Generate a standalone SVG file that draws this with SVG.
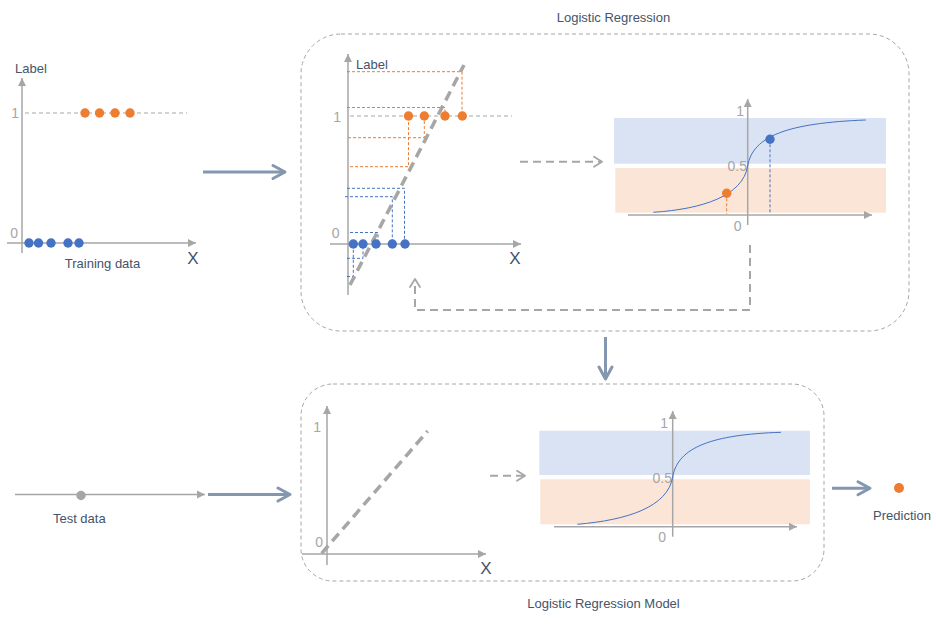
<svg xmlns="http://www.w3.org/2000/svg" width="936" height="628" viewBox="0 0 936 628">
<style>
.t{font-family:"Liberation Sans",Arial,sans-serif;font-size:13px;fill:#44546A}
.n{font-family:"Liberation Sans",Arial,sans-serif;font-size:14px;fill:#A6A6A6}
.x{font-family:"Liberation Sans",Arial,sans-serif;font-size:17px;fill:#44546A}
.box{fill:none;stroke:#A6A6A6;stroke-width:1;stroke-dasharray:4 3}
.axis{stroke:#A6A6A6;stroke-width:1.5;fill:none}
.gd{stroke:#A6A6A6;stroke-width:1;stroke-dasharray:4 3;fill:none}
.od{stroke:#ED7D31;stroke-width:1;stroke-dasharray:3 2;fill:none}
.bd{stroke:#4472C4;stroke-width:1;stroke-dasharray:3 2;fill:none}
.reg{stroke:#A6A6A6;stroke-width:3.5;stroke-dasharray:10 6;fill:none}
.big{stroke:#8497B0;stroke-width:3;fill:none}
.flow{stroke:#A6A6A6;stroke-width:2;stroke-dasharray:8 5;fill:none}
.curve{stroke:#4472C4;stroke-width:1;fill:none}
.o{fill:#ED7D31}
.b{fill:#4472C4}
</style>
<defs>
<marker id="ax" markerUnits="userSpaceOnUse" markerWidth="10" markerHeight="10" viewBox="0 0 10 10" refX="9" refY="5" orient="auto"><path d="M1,1 L9,5 L1,9 Z" fill="#A6A6A6"/></marker>
<marker id="bigA" markerUnits="userSpaceOnUse" markerWidth="18" markerHeight="18" viewBox="0 0 18 18" refX="15" refY="9" orient="auto"><path d="M3,2.5 L15,9 L3,15.5" fill="none" stroke="#8497B0" stroke-width="3" stroke-linecap="round" stroke-linejoin="round"/></marker>
<marker id="dA" markerUnits="userSpaceOnUse" markerWidth="14" markerHeight="14" viewBox="0 0 14 14" refX="12" refY="7" orient="auto"><path d="M4,2 L12,7 L4,12" fill="none" stroke="#A6A6A6" stroke-width="1.8" stroke-linecap="round" stroke-linejoin="round"/></marker>
</defs>
<rect width="936" height="628" fill="#FFFFFF"/>

<g id="training-data">
<line class="axis" x1="22" y1="253" x2="22" y2="78" marker-end="url(#ax)"/>
<line class="axis" x1="7" y1="243" x2="196" y2="243" marker-end="url(#ax)"/>
<line class="gd" x1="25" y1="113" x2="187" y2="113"/>
<text class="t" x="15" y="73">Label</text>
<text class="n" x="19" y="118" text-anchor="end">1</text>
<text class="n" x="18" y="238" text-anchor="end">0</text>
<circle class="o" cx="85" cy="113" r="4.7"/>
<circle class="o" cx="99.5" cy="113" r="4.7"/>
<circle class="o" cx="115" cy="113" r="4.7"/>
<circle class="o" cx="130" cy="113" r="4.7"/>
<circle class="b" cx="29" cy="243" r="4.7"/>
<circle class="b" cx="38.5" cy="243" r="4.7"/>
<circle class="b" cx="51" cy="243" r="4.7"/>
<circle class="b" cx="68" cy="243" r="4.7"/>
<circle class="b" cx="79" cy="243" r="4.7"/>
<text class="t" x="102.5" y="268" text-anchor="middle">Training data</text>
<text class="x" x="193" y="264" text-anchor="middle">X</text>
</g>

<g id="logistic-regression">
<text class="t" x="613.5" y="21.5" text-anchor="middle">Logistic Regression</text>
<rect class="box" x="301" y="34" width="608" height="297" rx="40"/>
<!-- linear chart -->
<line class="axis" x1="348" y1="295" x2="348" y2="54" marker-end="url(#ax)"/>
<line class="axis" x1="330" y1="244" x2="521" y2="244" marker-end="url(#ax)"/>
<text class="t" x="356" y="69">Label</text>
<text class="n" x="341" y="122" text-anchor="end">1</text>
<text class="n" x="339.5" y="238" text-anchor="end">0</text>
<text class="x" x="515" y="264" text-anchor="middle">X</text>
<line class="gd" x1="350" y1="116" x2="512" y2="116"/>
<path class="od" d="M347,71.7 H462 V116"/>
<path class="od" d="M347,107.5 H445 V116"/>
<path class="od" d="M348,137.7 H424.3 V116"/>
<path class="od" d="M350,166.7 H408.5 V116"/>
<path class="bd" d="M347,188.3 H404.5 V244"/>
<path class="bd" d="M345,196.7 H392.3 V244"/>
<path class="bd" d="M350,232.5 H378 V244"/>
<path class="bd" d="M347,258.3 H363 V244"/>
<path class="bd" d="M347,276.5 H353.3 V244"/>
<line class="reg" x1="350" y1="285" x2="464" y2="65"/>
<circle class="o" cx="408.5" cy="116" r="4.7"/>
<circle class="o" cx="424.3" cy="116" r="4.7"/>
<circle class="o" cx="445" cy="116" r="4.7"/>
<circle class="o" cx="462.3" cy="116" r="4.7"/>
<circle class="b" cx="353.3" cy="244" r="4.7"/>
<circle class="b" cx="363" cy="244" r="4.7"/>
<circle class="b" cx="376" cy="244" r="4.7"/>
<circle class="b" cx="392.3" cy="244" r="4.7"/>
<circle class="b" cx="405" cy="244" r="4.7"/>
<!-- sigmoid chart -->
<rect x="614" y="118" width="272" height="45.7" fill="#DAE3F3"/>
<rect x="615.3" y="168" width="270.7" height="44.7" fill="#FBE5D6"/>
<line class="axis" x1="747.7" y1="225" x2="747.7" y2="99" marker-end="url(#ax)"/>
<line class="axis" x1="628" y1="215" x2="872" y2="215" marker-end="url(#ax)"/>
<text class="n" x="744" y="115.5" text-anchor="end">1</text>
<text class="n" x="747" y="171" text-anchor="end">0.5</text>
<text class="n" x="741.5" y="231" text-anchor="end">0</text>
<path class="curve" d="M653.3,212.3 C702.7,209 742.7,196 747.7,166 C752.7,136 787.7,123 865.7,120"/>
<line class="od" x1="726.7" y1="193.3" x2="726.7" y2="214"/>
<line class="bd" x1="770" y1="139.3" x2="770" y2="214"/>
<circle class="o" cx="726.7" cy="193.3" r="4.7"/>
<circle class="b" cx="770" cy="139.3" r="4.7"/>
</g>

<g id="test-data">
<line class="axis" x1="15" y1="494.5" x2="205" y2="494.5" marker-end="url(#ax)"/>
<circle cx="81" cy="495.5" r="4.7" fill="#A6A6A6"/>
<text class="t" x="79.3" y="522.5" text-anchor="middle">Test data</text>
</g>

<g id="logistic-regression-model">
<rect class="box" x="301" y="384" width="523" height="197" rx="32"/>
<line class="axis" x1="327" y1="565" x2="327" y2="406" marker-end="url(#ax)"/>
<line class="axis" x1="302" y1="554" x2="486" y2="554" marker-end="url(#ax)"/>
<text class="n" x="321" y="431.5" text-anchor="end">1</text>
<text class="n" x="323" y="546.5" text-anchor="end">0</text>
<text class="x" x="486" y="574" text-anchor="middle">X</text>
<line class="reg" x1="321.7" y1="553.3" x2="427.7" y2="431"/>
<rect x="539.3" y="430.7" width="270.7" height="44.3" fill="#DAE3F3"/>
<rect x="540.3" y="479.3" width="269.7" height="45" fill="#FBE5D6"/>
<line class="axis" x1="672.7" y1="536.7" x2="672.7" y2="411" marker-end="url(#ax)"/>
<line class="axis" x1="554" y1="526.7" x2="797" y2="526.7" marker-end="url(#ax)"/>
<text class="n" x="668" y="427.5" text-anchor="end">1</text>
<text class="n" x="672" y="482.5" text-anchor="end">0.5</text>
<text class="n" x="666" y="542" text-anchor="end">0</text>
<path class="curve" d="M577.3,524.3 C627.7,520 667.7,507 672.7,477 C677.7,447 712.7,434.5 781,432.3"/>
<text class="t" x="603.5" y="607.5" text-anchor="middle">Logistic Regression Model</text>
</g>

<g id="prediction">
<circle class="o" cx="899" cy="488" r="5"/>
<text class="t" x="902" y="520" text-anchor="middle">Prediction</text>
</g>

<g id="connectors">
<line class="big" x1="203" y1="172" x2="285" y2="172" marker-end="url(#bigA)"/>
<line class="big" x1="208" y1="494.5" x2="290" y2="494.5" marker-end="url(#bigA)"/>
<line class="big" x1="605.5" y1="337" x2="605.5" y2="379" marker-end="url(#bigA)"/>
<line class="big" x1="832" y1="488.3" x2="870" y2="488.3" marker-end="url(#bigA)"/>
<line class="flow" x1="520" y1="161.7" x2="602" y2="161.7" marker-end="url(#dA)"/>
<line class="flow" x1="490" y1="475.7" x2="525" y2="475.7" marker-end="url(#dA)"/>
<path class="flow" d="M750,245 V310 H415 V279" marker-end="url(#dA)"/>
</g>
</svg>
